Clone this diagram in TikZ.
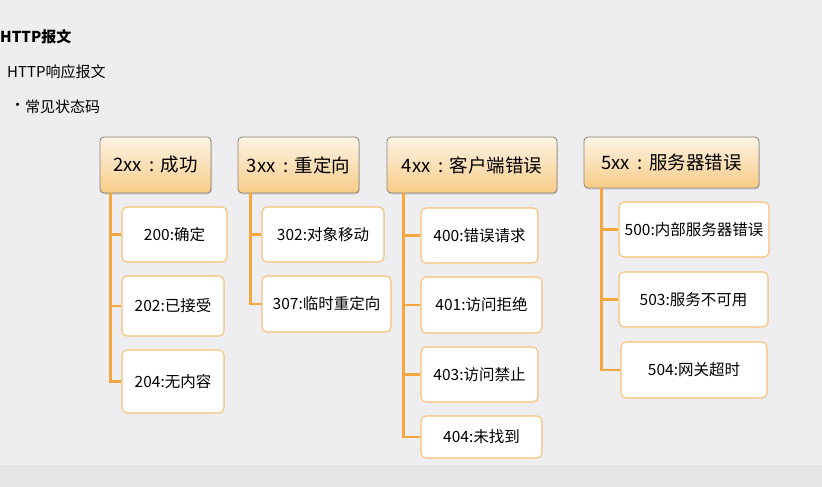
\documentclass[tikz,border=0pt]{standalone}
\usepackage{fontspec}
\setmainfont{Noto Sans CJK SC}
\usetikzlibrary{shadows}

\definecolor{slidebg}{RGB}{238,238,240}
\definecolor{slidefoot}{RGB}{229,229,231}
\definecolor{headtop}{RGB}{253,244,229}
\definecolor{headbottom}{RGB}{248,204,136}
\definecolor{headline}{RGB}{140,128,114}
\definecolor{codeline}{RGB}{247,192,118}
\definecolor{linkcolor}{RGB}{245,166,62}

\newcommand\kcolon{\hspace{0.42em}:\hspace{0.34em}}

\tikzset{
  x=1pt, y=-1pt,
  headbox/.style  = {shape=rectangle, rounded corners=4pt,
                     draw=headline, line width=0.8pt, align=center,
                     top color=headtop, bottom color=headbottom,
                     drop shadow={opacity=0.25, shadow xshift=1pt, shadow yshift=-1.5pt},
                     font=\fontsize{18.5}{22}\selectfont, inner sep=0pt},
  codebox/.style  = {shape=rectangle, rounded corners=5pt,
                     draw=codeline, line width=1.1pt, fill=white,
                     align=center, font=\fontsize{15.5}{19}\selectfont, inner sep=0pt},
  textline/.style = {anchor=west, inner sep=0pt, font=\fontsize{15}{18}\selectfont},
  link/.style     = {draw=linkcolor, line width=2.6pt}
}

\begin{document}
\begin{tikzpicture}
  \fill[slidebg] (0,0) rectangle (822,487);
  \fill[slidefoot] (0,465) rectangle (822,487);
  \useasboundingbox (0,0) rectangle (822,487);

  % slide text
  \node [textline, font=\fontsize{15}{18}\selectfont\bfseries] (title) at (0,37) {HTTP报文};
  \node [textline] (sub) at (7,72) {HTTP响应报文};
  \node [textline] (dot) at (10,107) {•};
  \node [textline] (codes) at (25,107) {常见状态码};

  % status classes
  \node [headbox, minimum width=111pt, minimum height=56pt] (h2) at (155.5,165) {2xx\kcolon 成功};
  \node [headbox, minimum width=121pt, minimum height=56pt] (h3) at (298.5,165) {3xx\kcolon 重定向};
  \node [headbox, minimum width=170pt, minimum height=56pt] (h4) at (472,165) {4xx\kcolon 客户端错误};
  \node [headbox, minimum width=175pt, minimum height=51pt] (h5) at (671.5,162.5) {5xx\kcolon 服务器错误};

  % status codes
  \node [codebox, minimum width=105pt, minimum height=55pt] (c200) at (174.5,234.5) {200:确定};
  \node [codebox, minimum width=102pt, minimum height=60pt] (c202) at (173,306) {202:已接受};
  \node [codebox, minimum width=102pt, minimum height=63pt] (c204) at (173,381.5) {204:无内容};

  \node [codebox, minimum width=122pt, minimum height=55pt] (c302) at (323,234.5) {302:对象移动};
  \node [codebox, minimum width=129pt, minimum height=56pt] (c307) at (326.5,304) {307:临时重定向};

  \node [codebox, minimum width=117pt, minimum height=55pt] (c400) at (479.5,235.5) {400:错误请求};
  \node [codebox, minimum width=121pt, minimum height=56pt] (c401) at (481.5,305) {401:访问拒绝};
  \node [codebox, minimum width=117pt, minimum height=55pt] (c403) at (479.5,374.5) {403:访问禁止};
  \node [codebox, minimum width=121pt, minimum height=42pt] (c404) at (481.5,437) {404:未找到};

  \node [codebox, minimum width=150pt, minimum height=55pt] (c500) at (694,229.5) {500:内部服务器错误};
  \node [codebox, minimum width=149pt, minimum height=55pt] (c503) at (693.5,299.5) {503:服务不可用};
  \node [codebox, minimum width=146pt, minimum height=56pt] (c504) at (694,370) {504:网关超时};

  % connectors
  \foreach \c in {c200,c202,c204}
    \draw [link] ([xshift=11pt]h2.south west) |- (\c.west);
  \foreach \c in {c302,c307}
    \draw [link] ([xshift=13pt]h3.south west) |- (\c.west);
  \foreach \c in {c400,c401,c403,c404}
    \draw [link] ([xshift=17pt]h4.south west) |- (\c.west);
  \foreach \c in {c500,c503,c504}
    \draw [link] ([xshift=18pt]h5.south west) |- (\c.west);
\end{tikzpicture}
\end{document}
